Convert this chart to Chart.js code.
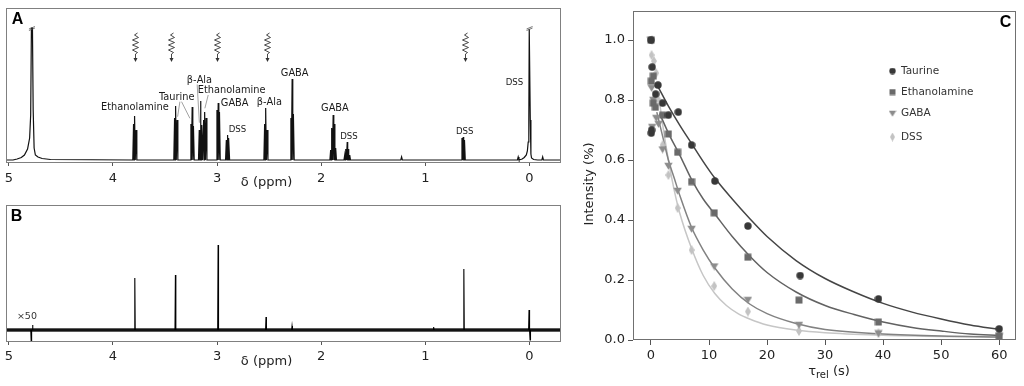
<!DOCTYPE html>
<html><head><meta charset="utf-8"><title>Saturation transfer NMR</title>
<script src="https://cdn.jsdelivr.net/npm/chart.js@4.4.1/dist/chart.umd.min.js"></script>
<style>
html,body{margin:0;padding:0;background:#fff;}
body{width:1024px;height:386px;position:relative;overflow:hidden;}
canvas{position:absolute;display:block;}
</style></head><body>
<canvas id="cA" width="570" height="195" style="left:0;top:0;width:570px;height:195px"></canvas>
<canvas id="cB" width="570" height="191" style="left:0;top:195px;width:570px;height:191px"></canvas>
<canvas id="cC" width="454" height="386" style="left:570px;top:0;width:454px;height:386px"></canvas>
<script>
// ================= DATA =================
// ppm axis
const ppmTicks = [5, 4, 3, 2, 1, 0];
// Panel A: resolved lines (ppm, height in plot units above baseline)
const linesAppm = [3.802,3.790,3.778, 3.408,3.396,3.384, 3.251,3.239,3.227, 3.171,3.159,3.147,
                   3.129,3.117,3.105, 3.001,2.989,2.977, 2.911,2.899,2.887, 2.543,2.531,2.519,
                   2.291,2.279,2.267, 1.909,1.897,1.885,1.873,1.861, 1.774,1.762,1.750,1.738,1.726,
                   1.228, 0.648,0.636,0.624, 0.108, -0.127];
const linesAh   = [36,44,30, 42,54,40, 36,53,34, 30,59,35,
                   40,48,42, 50,57,48, 20,25,22, 36,52,30,
                   42,81,46, 10,32,45,36,12, 5,11,18,11,5,
                   3, 22,23,20, 3, 3];
// broad lines: water (HDO) and DSS reference
const waterPpm = [4.96,4.92,4.88,4.85,4.82,4.80,4.79,4.783,4.773,4.766,4.757,4.745,4.72,4.68,4.60];
const waterH   = [0,1,2.5,5,11,22,45,132,132,50,12,5,3,1.5,0.5];
const dssPpm   = [0.10,0.07,0.05,0.03,0.02,0.012,0.006,0.002,-0.004,-0.008,-0.014,-0.02,-0.04,-0.08];
const dssH     = [0,1,2.5,5,9,18,40,131,131,40,6,2,0.5,0];
// Panel A annotations
const annText = ['Ethanolamine','Taurine','β-Ala','Ethanolamine','GABA','DSS','β-Ala','GABA','GABA','DSS','DSS','DSS'];
const annPpm  = [3.789,3.388,3.169,2.860,2.831,2.804,2.497,2.255,1.868,1.733,0.622,0.144];
const annH    = [52.7,62.3,80,70,56.7,30,57.3,86.7,51.7,23.3,28.3,77.3];
const leadFromPpm = [3.357,3.341,3.191,3.085];
const leadFromH   = [58.3,58.3,75.5,65];
const leadToPpm   = [3.379,3.261,3.170,3.117];
const leadToH     = [43.3,41.7,37.3,51.7];
const satPpm = [3.79, 3.44, 3.00, 2.525, 0.62];   // saturation positions (wavy arrows)
const truncPpm = [4.778, -0.001];                   // truncated peaks
// Panel B: STD difference lines (ppm, height), x50
const linesBppm = [4.785, 4.772, 3.79, 3.40, 2.99, 2.53, 2.28, 0.92, 0.63, 0.004, -0.006];
const linesBh   = [-12, 5, 52, 55, 85, 13, 4, 3, 61, 20, -10];
// Panel C: build-up / relaxation data
const tauX = [0,0.05,0.1,0.2,0.8,1.2,2.0,3.0,4.7,7.0,11.0,16.7,25.7,39.2,60];
const tauY = [1.0,0.69,0.70,0.91,0.82,0.85,0.79,0.75,0.76,0.65,0.53,0.38,0.215,0.137,0.037];
const ethX = [0,0.05,0.4,0.4,0.75,2.0,3.0,4.6,7.0,10.9,16.7,25.5,39.2,60];
const ethY = [1.0,0.863,0.88,0.79,0.776,0.75,0.687,0.626,0.528,0.424,0.276,0.133,0.06,0.013];
const gabaX = [0,0.1,0.2,0.4,0.9,1.3,2.0,3.0,4.6,7.0,10.9,16.7,25.5,39.2,60];
const gabaY = [1.0,0.84,0.71,0.80,0.74,0.72,0.635,0.58,0.497,0.37,0.245,0.133,0.05,0.022,0.012];
const dssX = [0.2,0.1,0.5,0.9,1.3,2.0,3.0,4.6,7.0,10.9,16.7,25.5,39.2,60];
const dssY = [1.0,0.95,0.93,0.89,0.80,0.65,0.55,0.44,0.30,0.18,0.095,0.03,0.022,0.008];
// fitted curves
const tauFitX = [1.2,3,5,7,9,11,14,17,20,25,30,35,40,45,50,55,60];
const tauFitY = [0.845,0.78,0.715,0.655,0.595,0.54,0.47,0.405,0.345,0.265,0.205,0.16,0.122,0.093,0.07,0.05,0.035];
const ethFitX = [1.5,3,5,7,9,11,14,17,20,25,30,35,40,45,50,55,60];
const ethFitY = [0.755,0.69,0.615,0.535,0.47,0.42,0.345,0.28,0.225,0.16,0.115,0.085,0.06,0.042,0.03,0.02,0.015];
const gabaFitX = [1,2,3,4,5,7,9,11,14,17,20,25,30,40,50,60];
const gabaFitY = [0.76,0.68,0.6,0.54,0.48,0.375,0.30,0.24,0.17,0.12,0.088,0.055,0.035,0.02,0.013,0.01];
const dssFitX = [1.5,2,3,4,5,7,9,11,13,15,17,20,25,30,40,50,60];
const dssFitY = [0.79,0.72,0.6,0.5,0.42,0.305,0.215,0.155,0.115,0.088,0.07,0.05,0.033,0.024,0.016,0.012,0.01];
const seriesNames = ['Taurine','Ethanolamine','GABA','DSS'];
const tTicks = [0,10,20,30,40,50,60];
const iTicks = [0,0.2,0.4,0.6,0.8,1.0];

// ================= HELPERS =================
const FONT = '"DejaVu Sans", Verdana, sans-serif';
const PPM_MIN = -0.303, PPM_MAX = 5.027;

function buildSpectrum(profiles, lp, lh, halfW){
  const pts = [{x:PPM_MAX, y:0}, {x:PPM_MIN, y:0}];
  profiles.forEach(([p,h]) => p.forEach((v,i) => pts.push({x:v, y:h[i]})));
  lp.forEach((p,i) => { pts.push({x:p+halfW, y:0}, {x:p, y:lh[i]}, {x:p-halfW, y:0}); });
  pts.sort((a,b) => b.x - a.x);
  return pts;
}
function zip(xs, ys){ return xs.map((x,i)=>({x:x, y:ys[i]})); }

function ppmAxis(h, tickPad){
  return {
    type:'linear', reverse:true, min:PPM_MIN, max:PPM_MAX,
    afterBuildTicks: s => { s.ticks = ppmTicks.map(v => ({value:v})); },
    afterFit: s => { s.height = h; s.paddingLeft = 0; s.paddingRight = 0; },
    grid:{display:true, drawOnChartArea:false, drawTicks:true, tickLength:3, color:'#555', lineWidth:1},
    border:{display:false},
    ticks:{font:{family:FONT, size:13}, color:'#222', padding:tickPad, maxRotation:0, autoSkip:false}
  };
}
function strokeFrame(chart, color){
  const a = chart.chartArea, ctx = chart.ctx;
  ctx.save(); ctx.strokeStyle = color; ctx.lineWidth = 1;
  ctx.strokeRect(Math.round(a.left)+0.5, Math.round(a.top)+0.5, Math.round(a.right-a.left)-1, Math.round(a.bottom-a.top)-1);
  ctx.restore();
}
function panelLetter(ctx, t, x, y){
  ctx.save(); ctx.font = 'bold 16px "Liberation Sans", Arial, sans-serif';
  ctx.fillStyle = '#000'; ctx.textAlign = 'center'; ctx.textBaseline = 'middle';
  ctx.fillText(t, x, y); ctx.restore();
}
function ppmTitle(chart){
  const ctx = chart.ctx, xs = chart.scales.x;
  ctx.save(); ctx.font = '13px ' + FONT; ctx.fillStyle = '#222';
  ctx.textAlign = 'center'; ctx.textBaseline = 'middle';
  ctx.fillText('δ (ppm)', xs.getPixelForValue(2.525), chart.chartArea.bottom + 20);
  ctx.restore();
}

// ================= PANEL A =================
const specA = buildSpectrum([[waterPpm, waterH],[dssPpm, dssH]], linesAppm, linesAh, 0.0075);
new Chart(document.getElementById('cA'), {
  type:'line',
  data:{datasets:[{data:specA, borderColor:'#111', borderWidth:1.2, pointRadius:0, tension:0}]},
  options:{
    animation:false, responsive:false, events:[],
    layout:{padding:{left:6, right:9, top:8, bottom:0}},
    plugins:{legend:{display:false}, tooltip:{enabled:false}},
    scales:{ x: ppmAxis(32, 5), y:{display:false, min:-3, max:152} }
  },
  plugins:[{ id:'decorA', afterDraw(chart){
    const ctx = chart.ctx, xs = chart.scales.x, ys = chart.scales.y;
    strokeFrame(chart, '#808080');
    panelLetter(ctx, 'A', 17.5, 20);
    ppmTitle(chart);
    ctx.save();
    // leader lines
    ctx.strokeStyle = '#8a8a8a'; ctx.lineWidth = 0.8;
    leadFromPpm.forEach((p,i) => {
      ctx.beginPath();
      ctx.moveTo(xs.getPixelForValue(p), ys.getPixelForValue(leadFromH[i]));
      ctx.lineTo(xs.getPixelForValue(leadToPpm[i]), ys.getPixelForValue(leadToH[i]));
      ctx.stroke();
    });
    // labels
    ctx.fillStyle = '#1a1a1a'; ctx.textAlign = 'center'; ctx.textBaseline = 'middle';
    annText.forEach((t,i) => {
      ctx.font = (t === 'DSS' ? '8.6px ' : '9.8px ') + FONT;
      ctx.fillText(t, xs.getPixelForValue(annPpm[i]), ys.getPixelForValue(annH[i]));
    });
    // wavy saturation arrows
    ctx.strokeStyle = '#333'; ctx.fillStyle = '#333'; ctx.lineWidth = 0.9;
    satPpm.forEach(p => {
      const x = Math.round(xs.getPixelForValue(p)) + 0.5, y0 = ys.getPixelForValue(127);
      const zz = [[2,0],[-1,2],[3,4.5],[-3,7],[3,9.5],[-3,12],[3,14.5],[-3,17],[2,19.5],[0,21]];
      ctx.beginPath(); ctx.moveTo(x+zz[0][0], y0+zz[0][1]);
      zz.forEach(d => ctx.lineTo(x+d[0], y0+d[1]));
      ctx.lineTo(x, y0+26); ctx.stroke();
      ctx.beginPath(); ctx.moveTo(x-2, y0+25); ctx.lineTo(x+2, y0+25); ctx.lineTo(x, y0+29); ctx.closePath(); ctx.fill();
    });
    // truncation marks on the clipped peaks
    ctx.strokeStyle = '#555'; ctx.lineWidth = 0.8;
    truncPpm.forEach(p => {
      const x = xs.getPixelForValue(p), y = ys.getPixelForValue(132);
      ctx.beginPath(); ctx.moveTo(x-3, y+1); ctx.lineTo(x+3, y-1.5);
      ctx.moveTo(x-3, y+2.5); ctx.lineTo(x+3, y); ctx.stroke();
    });
    ctx.restore();
  }}]
});

// ================= PANEL B =================
const specB = buildSpectrum([], linesBppm, linesBh, 0.004);
new Chart(document.getElementById('cB'), {
  type:'line',
  data:{datasets:[
    {data:specB, borderColor:'#000', borderWidth:1.1, pointRadius:0, tension:0},
    {data:[{x:PPM_MAX, y:0},{x:PPM_MIN, y:0}], borderColor:'#262626', borderWidth:3.5, pointRadius:0}
  ]},
  options:{
    animation:false, responsive:false, events:[],
    layout:{padding:{left:6, right:9, top:10, bottom:0}},
    plugins:{legend:{display:false}, tooltip:{enabled:false}},
    scales:{ x: ppmAxis(44, 4), y:{display:false, min:-12, max:125} }
  },
  plugins:[{ id:'decorB', afterDraw(chart){
    const ctx = chart.ctx, xs = chart.scales.x, ys = chart.scales.y;
    strokeFrame(chart, '#808080');
    panelLetter(ctx, 'B', 16.5, 22);
    ppmTitle(chart);
    ctx.save(); ctx.font = '9.5px ' + FONT; ctx.fillStyle = '#333';
    ctx.textAlign = 'center'; ctx.textBaseline = 'middle';
    ctx.fillText('×50', xs.getPixelForValue(4.826), ys.getPixelForValue(13));
    ctx.restore();
  }}]
});

// ================= PANEL C =================
function markerCanvas(shape, color, w, h){
  const c = document.createElement('canvas'); c.width = w; c.height = h;
  const g = c.getContext('2d'); g.fillStyle = color; g.beginPath();
  if (shape === 'circle') g.arc(w/2, h/2, w/2 - 0.3, 0, Math.PI*2);
  else if (shape === 'square') g.rect(0.5, 0.5, w-1, h-1);
  else if (shape === 'tri') { g.moveTo(0.3, 0.8); g.lineTo(w-0.3, 0.8); g.lineTo(w/2, h-0.3); g.closePath(); }
  else { g.moveTo(w/2, 0); g.lineTo(w, h/2); g.lineTo(w/2, h); g.lineTo(0, h/2); g.closePath(); }
  g.fill(); return c;
}
const markColors = ['#383838','#6a6a6a','#8c8c8c','#c3c3c3'];
const lineColors = ['#454545','#626262','#828282','#c6c6c6'];
const shapes = ['circle','square','tri','diamond'];
const mSize = [[8,8],[8,8],[9,8],[6,10]];
const lSize = [[7,7],[7,7],[8,7],[5,9]];
const markers = shapes.map((s,i) => markerCanvas(s, markColors[i], mSize[i][0], mSize[i][1]));
const legMarkers = shapes.map((s,i) => markerCanvas(s, markColors[i], lSize[i][0], lSize[i][1]));
const ptsC = [zip(tauX,tauY), zip(ethX,ethY), zip(gabaX,gabaY), zip(dssX,dssY)];
const fitC = [zip(tauFitX,tauFitY), zip(ethFitX,ethFitY), zip(gabaFitX,gabaFitY), zip(dssFitX,dssFitY)];

const dsC = [];
seriesNames.forEach((n,i) => {
  dsC.push({label:n, data:ptsC[i], showLine:false, pointStyle:markers[i], pointRadius:4, order:i});
});
seriesNames.forEach((n,i) => {
  dsC.push({label:n+' fit', data:fitC[i], showLine:true, pointRadius:0, borderColor:lineColors[i],
            borderWidth:1.5, cubicInterpolationMode:'monotone', order:10+i});
});

new Chart(document.getElementById('cC'), {
  type:'scatter',
  data:{datasets:dsC},
  options:{
    animation:false, responsive:false, events:[],
    layout:{padding:{left:0, right:8, top:11, bottom:0}},
    plugins:{legend:{display:false}, tooltip:{enabled:false}},
    scales:{
      x:{type:'linear', min:-3.1, max:62.9,
         afterBuildTicks: s => { s.ticks = tTicks.map(v => ({value:v})); },
         afterFit: s => { s.height = 46; s.paddingLeft = 0; s.paddingRight = 0; },
         grid:{drawOnChartArea:false, tickLength:5, color:'#555'}, border:{display:false},
         ticks:{font:{family:FONT, size:13}, color:'#222', padding:3, maxRotation:0, autoSkip:false,
                callback: v => String(v)}},
      y:{type:'linear', min:0, max:1.097,
         afterBuildTicks: s => { s.ticks = iTicks.map(v => ({value:v})); },
         afterFit: s => { s.width = 63; s.paddingTop = 0; s.paddingBottom = 0; },
         grid:{drawOnChartArea:false, tickLength:5, color:'#555'}, border:{display:false},
         ticks:{font:{family:FONT, size:13}, color:'#222', padding:3, autoSkip:false,
                callback: v => v.toFixed(1)}}
    }
  },
  plugins:[{ id:'decorC', afterDraw(chart){
    const ctx = chart.ctx;
    strokeFrame(chart, '#707070');
    panelLetter(ctx, 'C', 435.5, 22.5);
    ctx.save();
    ctx.fillStyle = '#222'; ctx.textBaseline = 'middle';
    // y title
    ctx.save(); ctx.translate(20, 184); ctx.rotate(-Math.PI/2);
    ctx.font = '13px ' + FONT; ctx.textAlign = 'center'; ctx.fillText('Intensity (%)', 0, 0);
    ctx.restore();
    // x title  τrel (s)
    ctx.textAlign = 'left';
    ctx.font = '13px ' + FONT; const w1 = ctx.measureText('τ').width, w3 = ctx.measureText(' (s)').width;
    ctx.font = '10px ' + FONT; const w2 = ctx.measureText('rel').width;
    let x0 = 259 - (w1+w2+w3)/2, yT = 372;
    ctx.font = '13px ' + FONT; ctx.fillText('τ', x0, yT);
    ctx.font = '10px ' + FONT; ctx.fillText('rel', x0 + w1, yT + 3);
    ctx.font = '13px ' + FONT; ctx.fillText(' (s)', x0 + w1 + w2, yT);
    // legend
    const rows = [71, 92, 113.5, 137];
    ctx.font = '10.5px ' + FONT; ctx.fillStyle = '#333';
    seriesNames.forEach((n,i) => {
      const m = legMarkers[i];
      ctx.drawImage(m, 322.5 - m.width/2, rows[i] - m.height/2);
      ctx.fillText(n, 331, rows[i]);
    });
    ctx.restore();
  }}]
});
</script>
</body></html>
